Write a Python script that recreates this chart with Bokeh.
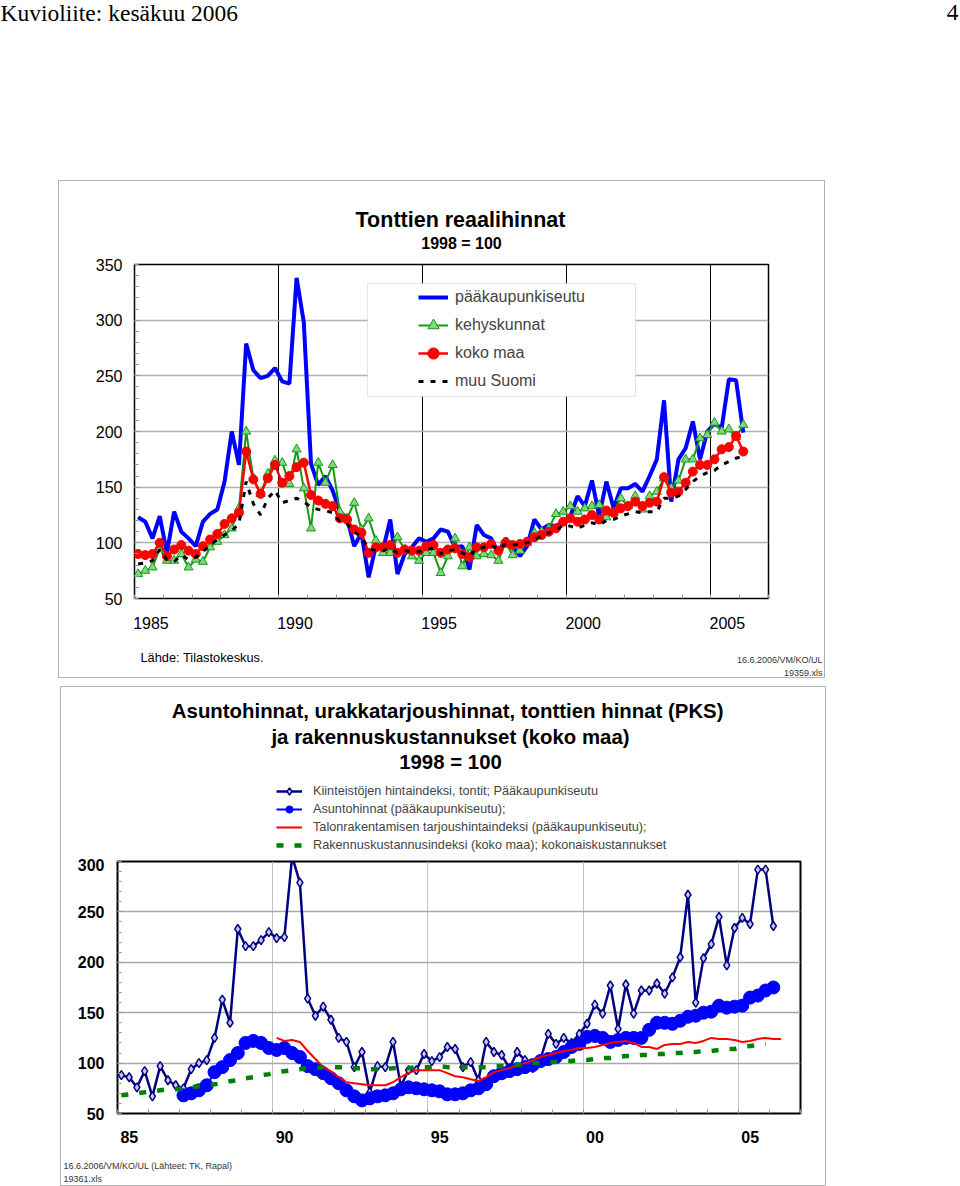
from bokeh.plotting import figure
from bokeh.models import (Range1d, FixedTicker, CustomJSTickFormatter, Label,
                          Legend, LegendItem, BoxAnnotation, Spacer)
from bokeh.layouts import column, row
from bokeh.embed import file_html
from bokeh.resources import INLINE

FONT = "Liberation Sans"
BORDER = "#b4b4b4"

# ---------------- Top chart data: Tonttien reaalihinnat, quarterly 1985Q1..2006Q1
top_start = (1985, 1)
paakaupunkiseutu = [123, 119, 104, 124, 91, 128, 110, 104, 97, 119, 126, 130, 155, 200, 170,
                    279, 255, 248, 250, 257, 245, 243, 338, 298, 171, 152, 160, 147, 128,
                    122, 97, 109, 69, 97, 94, 121, 72, 90, 96, 104, 101, 104, 112, 110, 96,
                    97, 76, 116, 107, 104, 91, 104, 97, 88, 97, 121, 112, 116,
                    115, 119, 124, 142, 133, 156, 124, 155, 131, 149, 149, 153, 146, 160,
                    175, 228, 137, 175, 185, 209, 175, 200, 207, 203, 247, 246, 199]
kehyskunnat = [72, 75, 78, 95, 84, 84, 90, 78, 85, 83, 96, 101, 107, 113, 131,
               200, 158, 144, 162, 174, 172, 153, 184, 149, 113, 172, 154, 170, 128,
               122, 136, 112, 122, 102, 91, 91, 105, 94, 88, 84, 91, 91, 73, 88, 104,
               79, 96, 88, 90, 89, 84, 100, 89, 93, 100, 109, 110, 113,
               126, 128, 133, 128, 131, 133, 134, 123, 127, 140, 133, 142, 130, 142,
               146, 158, 149, 156, 175, 175, 194, 197, 208, 200, 202, 195, 206]
koko_maa = [90, 89, 90, 100, 88, 94, 98, 93, 90, 97, 103, 108, 117, 122, 127,
            182, 157, 144, 158, 170, 154, 160, 168, 172, 143, 138, 135, 133, 122,
            121, 112, 109, 91, 96, 96, 98, 91, 94, 93, 93, 97, 98, 91, 94, 95,
            90, 87, 96, 96, 99, 93, 100, 98, 99, 101, 105, 107, 110,
            113, 119, 122, 119, 121, 125, 121, 129, 127, 131, 133, 137, 133, 136,
            137, 159, 145, 146, 154, 164, 170, 170, 175, 184, 186, 196, 182]
muu_suomi = [81, 82, 84, 94, 85, 83, 89, 85, 87, 92, 98, 103, 107, 111, 117,
             155, 135, 125, 140, 147, 136, 138, 140, 137, 132, 130, 129, 127, 119,
             117, 110, 105, 95, 93, 93, 95, 91, 93, 92, 92, 94, 95, 90, 93, 94,
             91, 88, 95, 96, 98, 94, 99, 98, 99, 100, 103, 106, 109,
             111, 116, 115, 113, 116, 118, 116, 120, 121, 124, 126, 128, 127, 128,
             128, 140, 140, 142, 148, 155, 160, 163, 165, 170, 173, 176, 178]
top_year_labels = [1985, 1990, 1995, 2000, 2005]

# ---------------- Bottom chart data, quarterly
tontit_start = (1985, 1)
tontit_pks = [88, 86, 76, 92, 67, 97, 83, 78, 75, 94, 100, 103, 125, 163, 140,
              233, 216, 216, 222, 230, 224, 225, 305, 279, 164, 147, 156, 143, 125,
              121, 96, 111, 71, 97, 96, 121, 77, 93, 93, 109, 102, 106, 116, 114, 96,
              101, 83, 121, 111, 108, 95, 111, 103, 95, 104, 129, 119,
              125, 120, 129, 139, 158, 149, 177, 134, 178, 149, 172, 172, 179, 169,
              185, 205, 267, 160, 204, 218, 245, 197, 234, 244, 238, 292, 292, 236]
asunto_start = (1987, 1)
asuntohinnat = [68, 70, 73, 78, 91, 96, 103, 110, 120, 122, 120, 115, 113, 115, 110, 106,
                97, 94, 90, 85, 80,
                73, 67, 63, 65, 67, 68, 70, 74, 76, 75, 74, 73, 72, 69, 69, 70, 73, 75,
                79, 87, 90, 92, 94, 96, 98, 102, 104, 106,
                111, 116, 119, 126, 127, 125, 121, 123, 125, 125, 125, 133, 140, 140,
                139, 142, 146, 147, 150, 151, 157, 155, 156, 157, 165, 167, 172, 175]
tarjous_start = (1990, 1)
tarjoushinta = [125, 122, 123, 121, 112, 104, 96, 92, 86,
                81, 80, 79, 78, 78, 78, 81, 86, 90, 93, 93, 93, 93, 90, 87, 86, 84, 82,
                86, 91, 93, 95, 98, 100, 103,
                106, 108, 110, 112, 113, 115, 115, 116, 118, 120, 121, 122, 120, 116,
                116, 114, 118, 119, 119, 121, 120, 122, 125, 124, 124, 123, 121, 122,
                124, 125, 124, 124]
rakennus_start = (1985, 1)
rakennuskust = [68, 69, 70, 71, 72, 73, 74, 74, 75, 76, 77, 78, 79, 80, 82, 83,
                85, 86, 88, 89, 91, 92, 93, 94, 95, 95, 96, 96, 96, 95, 95, 95,
                94, 94, 94, 95, 95, 95, 96, 96, 96, 97, 96, 96, 96, 96, 96, 96,
                97, 97, 97, 98, 99, 100, 100, 101, 101, 102, 102, 103, 103, 104, 105, 105,
                106, 107, 107, 108, 108, 109, 109, 110, 110, 111, 111, 112, 112, 113, 114, 114,
                116, 117, 118, 119]
bottom_year_labels = [1985, 1990, 1995, 2000, 2005]


def quarter_x(start, n):
    y0, q0 = start
    return [y0 + (q0 - 1 + k + 0.5) / 4.0 for k in range(n)]


def label(p, x, y, text, size, bold=False, align="left", baseline="middle",
          font=FONT, color="black"):
    p.add_layout(Label(x=x, y=y, x_units="screen", y_units="screen", text=text,
                       text_font=font, text_font_size=size,
                       text_font_style="bold" if bold else "normal",
                       text_align=align, text_baseline=baseline, text_color=color))


def text_panel(w, h):
    f = figure(width=w, height=h, x_range=Range1d(0, 1), y_range=Range1d(0, 1),
               x_axis_type=None, y_axis_type=None, output_backend="svg",
               toolbar_location=None, tools="", min_border=0,
               min_border_left=0, min_border_right=0, min_border_top=0, min_border_bottom=0)
    f.outline_line_color = None
    f.background_fill_color = "white"
    f.border_fill_color = "white"
    f.grid.visible = False
    return f


def hline(w):
    return Spacer(width=w, height=1, styles={"background-color": BORDER})


def vline(h):
    return Spacer(width=1, height=h, styles={"background-color": BORDER})


def style_axes(p, size, bold):
    for ax in (p.xaxis[0], p.yaxis[0]):
        ax.axis_line_color = None
        ax.major_label_text_font = FONT
        ax.major_label_text_font_size = size
        ax.major_label_text_font_style = "bold" if bold else "normal"
        ax.major_label_text_color = "black"
        ax.minor_tick_line_color = "#909090"
        ax.major_tick_line_color = "#909090"
        ax.major_tick_out = 0
        ax.minor_tick_out = 0
        ax.minor_tick_in = 4
    p.xaxis.major_tick_in = 0
    p.yaxis.major_tick_in = 4


# ======================= HEADER =======================
head = text_panel(960, 180)
label(head, 0, 168, "Kuvioliite: kesäkuu 2006", "23.5px", font="Liberation Serif")
label(head, 958, 168, "4", "23.5px", font="Liberation Serif", align="right")

# ======================= TOP BOX (x 58..825, y 180..678) =======================
t1 = text_panel(765, 77)
label(t1, 401, 39, "Tonttien reaalihinnat", "21.5px", bold=True, align="center")
label(t1, 402, 15, "1998 = 100", "16px", bold=True, align="center")

top = figure(width=765, height=380, x_range=Range1d(1985, 2007), y_range=Range1d(50, 350),
             output_backend="svg", toolbar_location=None, tools="",
             min_border_left=75, min_border_right=56, min_border_top=6,
             min_border_bottom=40)
top.background_fill_color = "white"
top.border_fill_color = "white"
top.outline_line_color = "black"
top.outline_line_width = 1.5

top.xgrid.ticker = FixedTicker(ticks=[1990, 1995, 2000, 2005])
top.xgrid.grid_line_color = "black"
top.xgrid.grid_line_width = 1
top.ygrid.ticker = FixedTicker(ticks=[100, 150, 200, 250, 300])
top.ygrid.grid_line_color = "#b0b0b0"
top.ygrid.grid_line_width = 1.5

top.xaxis.ticker = FixedTicker(ticks=[y + 0.57 for y in top_year_labels],
                               minor_ticks=list(range(1985, 2008)))
top.xaxis.formatter = CustomJSTickFormatter(code="return String(Math.round(tick - 0.57));")
top.yaxis.ticker = FixedTicker(ticks=list(range(50, 351, 50)),
                               minor_ticks=list(range(50, 351, 10)))
style_axes(top, "16px", False)
top.xaxis.major_label_standoff = 18
top.yaxis.major_label_standoff = 12

tx = quarter_x(top_start, len(paakaupunkiseutu))
r_pks = top.line(tx, paakaupunkiseutu, line_color="#0000ff", line_width=4)
r_keh = top.line(tx, kehyskunnat, line_color="#159a15", line_width=2)
r_keh_m = top.scatter(tx, kehyskunnat, marker="triangle", size=9, fill_color="#7fd67f",
                      line_color="#159a15", line_width=1)
r_koko = top.line(tx, koko_maa, line_color="#ff0000", line_width=2.5)
r_koko_m = top.scatter(tx, koko_maa, marker="circle", size=9, fill_color="#ff0000",
                       line_color="#ff0000")
r_muu = top.line(tx, muu_suomi, line_color="black", line_width=3, line_dash="5 7")

top.add_layout(BoxAnnotation(left=233, right=501, top=315, bottom=202,
                             left_units="screen", right_units="screen",
                             top_units="screen", bottom_units="screen",
                             fill_color="white", fill_alpha=1,
                             line_color="#a8a8a8", line_width=1))
leg = Legend(items=[LegendItem(label="pääkaupunkiseutu", renderers=[r_pks]),
                    LegendItem(label="kehyskunnat", renderers=[r_keh, r_keh_m]),
                    LegendItem(label="koko maa", renderers=[r_koko, r_koko_m]),
                    LegendItem(label="muu Suomi", renderers=[r_muu])],
             location=(284, 203), padding=0, margin=0, spacing=0,
             glyph_width=30, glyph_height=28, label_height=28, label_standoff=7,
             border_line_color=None, background_fill_alpha=0,
             label_text_font=FONT, label_text_font_size="16px")
top.add_layout(leg)

f1 = text_panel(765, 39)
label(f1, 81, 20, "Lähde: Tilastokeskus.", "12.8px")
label(f1, 763, 18, "16.6.2006/VM/KO/UL", "9px", align="right", color="#333333")
label(f1, 763, 5, "19359.xls", "9px", align="right", color="#333333")

top_box = column(hline(767),
                 row(vline(77), t1, vline(77)),
                 row(vline(380), top, vline(380)),
                 row(vline(39), f1, vline(39)),
                 hline(767))

# ======================= BOTTOM BOX (x 60..826, y 686..1186) =======================
x_ton = quarter_x(tontit_start, len(tontit_pks))
x_as = quarter_x(asunto_start, len(asuntohinnat))
x_ta = quarter_x(tarjous_start, len(tarjoushinta))
x_ra = quarter_x(rakennus_start, len(rakennuskust))

SERIES_STYLE = {
    "ton_line": dict(line_color="#000080", line_width=2.5),
    "ton_mark": dict(marker="diamond", size=9, fill_color="#c8c8f0",
                     line_color="#000080", line_width=1.5),
    "as_line": dict(line_color="#0000ff", line_width=2),
    "as_mark": dict(marker="circle", size=13, fill_color="#0000ff", line_color="#0000ff"),
    "ta_line": dict(line_color="#ff0000", line_width=2),
    "ra_line": dict(line_color="#008000", line_width=4.5, line_dash="7 11"),
}

# title + key panel (its range 0..1 keeps the series themselves out of view:
# only the legend swatches are seen here)
t2 = text_panel(764, 171)
label(t2, 389, 148, "Asuntohinnat,  urakkatarjoushinnat, tonttien hinnat (PKS)", "20.4px",
      bold=True, align="center")
label(t2, 389, 122, "ja rakennuskustannukset (koko maa)", "20.4px", bold=True, align="center")
label(t2, 389, 97, "1998 = 100", "20.4px", bold=True, align="center")
k_ton = t2.line(x_ton, tontit_pks, **SERIES_STYLE["ton_line"])
k_ton_m = t2.scatter(x_ton, tontit_pks, **SERIES_STYLE["ton_mark"])
k_as = t2.line(x_as, asuntohinnat, **SERIES_STYLE["as_line"])
k_as_m = t2.scatter(x_as, asuntohinnat, marker="circle", size=10, fill_color="#0000ff",
                    line_color="#0000ff")
k_ta = t2.line(x_ta, tarjoushinta, **SERIES_STYLE["ta_line"])
k_ra = t2.line(x_ra, rakennuskust, **SERIES_STYLE["ra_line"])
leg2 = Legend(items=[LegendItem(label="Kiinteistöjen hintaindeksi, tontit; Pääkaupunkiseutu",
                                renderers=[k_ton, k_ton_m]),
                     LegendItem(label="Asuntohinnat (pääkaupunkiseutu);",
                                renderers=[k_as, k_as_m]),
                     LegendItem(label="Talonrakentamisen tarjoushintaindeksi (pääkaupunkiseutu);",
                                renderers=[k_ta]),
                     LegendItem(label="Rakennuskustannusindeksi (koko maa); kokonaiskustannukset",
                                renderers=[k_ra])],
              location=(215, 4), padding=0, margin=0, spacing=0,
              glyph_width=26, glyph_height=18, label_height=18, label_standoff=11,
              border_line_color=None, background_fill_alpha=0,
              label_text_font=FONT, label_text_font_size="12.7px")
t2.add_layout(leg2)

bot = figure(width=764, height=292, x_range=Range1d(1985, 2007), y_range=Range1d(50, 300),
             output_backend="svg", toolbar_location=None, tools="",
             min_border_left=56, min_border_right=25, min_border_top=3,
             min_border_bottom=37)
bot.background_fill_color = "white"
bot.border_fill_color = "white"
bot.outline_line_color = "black"
bot.outline_line_width = 2

bot.xgrid.ticker = FixedTicker(ticks=[1990, 1995, 2000, 2005])
bot.xgrid.grid_line_color = "#c4c4c4"
bot.xgrid.grid_line_width = 1
bot.ygrid.ticker = FixedTicker(ticks=[100, 150, 200, 250])
bot.ygrid.grid_line_color = "#a8a8a8"
bot.ygrid.grid_line_width = 1.5

bot.xaxis.ticker = FixedTicker(ticks=[y + 0.38 for y in bottom_year_labels],
                               minor_ticks=list(range(1985, 2008)))
bot.xaxis.formatter = CustomJSTickFormatter(
    code="return String(Math.round(tick - 0.38)).slice(2);")
bot.yaxis.ticker = FixedTicker(ticks=list(range(50, 301, 50)),
                               minor_ticks=list(range(50, 301, 10)))
style_axes(bot, "16px", True)
bot.xaxis.major_label_standoff = 17
bot.yaxis.major_label_standoff = 13

bot.line(x_ton, tontit_pks, **SERIES_STYLE["ton_line"])
bot.scatter(x_ton, tontit_pks, **SERIES_STYLE["ton_mark"])
bot.line(x_as, asuntohinnat, **SERIES_STYLE["as_line"])
bot.scatter(x_as, asuntohinnat, **SERIES_STYLE["as_mark"])
bot.line(x_ta, tarjoushinta, **SERIES_STYLE["ta_line"])
bot.line(x_ra, rakennuskust, **SERIES_STYLE["ra_line"])

f2 = text_panel(764, 35)
label(f2, 2, 20, "16.6.2006/VM/KO/UL (Lähteet: TK, Rapal)", "9px", color="#333333")
label(f2, 2, 7, "19361.xls", "9px", color="#333333")

bot_box = column(hline(766),
                 row(vline(171), t2, vline(171)),
                 row(vline(292), bot, vline(292)),
                 row(vline(35), f2, vline(35)),
                 hline(766))

layout = column(head,
                row(Spacer(width=58, height=498), top_box),
                Spacer(width=960, height=8),
                row(Spacer(width=60, height=500), bot_box))
open("out.html", "w").write(file_html(layout, INLINE))
